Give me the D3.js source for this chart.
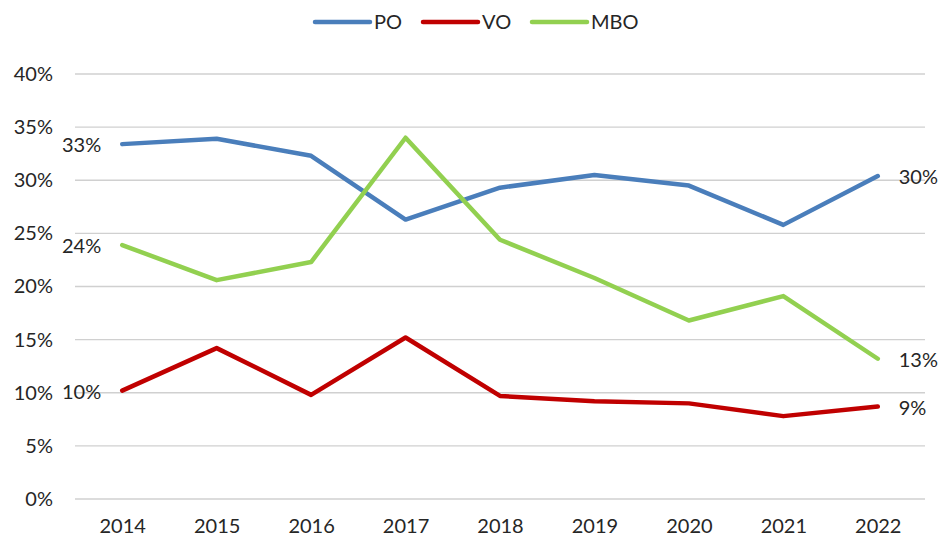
<!DOCTYPE html>
<html>
<head>
<meta charset="utf-8">
<script src="https://cdn.jsdelivr.net/npm/d3@7"></script>
<style>
  body { margin: 0; background: #fff; }
  text { font-family: Lato, "Open Sans", sans-serif; fill: #262626; }
</style>
</head>
<body>
<div id="chart"></div>
<script>
var w = 945;
var h = 540;

// values, in percent
var years = ["2014", "2015", "2016", "2017", "2018", "2019", "2020", "2021", "2022"];
var po  = [33.4, 33.9, 32.3, 26.3, 29.3, 30.5, 29.5, 25.8, 30.4];
var vo  = [10.2, 14.2, 9.8, 15.2, 9.7, 9.2, 9.0, 7.8, 8.7];
var mbo = [23.9, 20.6, 22.3, 34.0, 24.4, 20.8, 16.8, 19.1, 13.2];
var yTicks = [0, 5, 10, 15, 20, 25, 30, 35, 40];

var series = [
    {name: "PO",  values: po,  color: "#4a7ebb"},
    {name: "VO",  values: vo,  color: "#c00000"},
    {name: "MBO", values: mbo, color: "#92d050"}
];

var margin = {left: 75, right: 20, top: 74, bottom: 41};
var fontSize = "20px";

var svg = d3.select("#chart")
            .append("svg")
                .attr("width", w)
                .attr("height", h);

var x = d3.scalePoint()
    .domain(years)
    .range([margin.left, w - margin.right])
    .padding(0.5);

var y = d3.scaleLinear()
    .domain([0, 40])
    .range([h - margin.bottom, margin.top]);

// gridlines
svg.append("g")
    .selectAll("line")
    .data(yTicks)
    .enter()
        .append("line")
        .attr("x1", margin.left)
        .attr("x2", w - margin.right)
        .attr("y1", function(d) { return y(d); })
        .attr("y2", function(d) { return y(d); })
        .attr("stroke", "#d0d0d0")
        .attr("stroke-width", 1.3);

// y axis labels
var yAxis = svg.append("g")
    .attr("transform", "translate(" + margin.left + ",0)")
    .call(d3.axisLeft(y).tickValues(yTicks).tickSize(0).tickPadding(22)
        .tickFormat(function(d) { return d + "%"; }));
yAxis.select(".domain").remove();
yAxis.selectAll("text").style("font-size", fontSize);

// x axis labels
var xAxis = svg.append("g")
    .attr("transform", "translate(0," + (h - margin.bottom) + ")")
    .call(d3.axisBottom(x).tickSize(0).tickPadding(20));
xAxis.select(".domain").remove();
xAxis.selectAll("text").style("font-size", fontSize);

var line = d3.line()
    .x(function(d, i) { return x(years[i]); })
    .y(function(d) { return y(d); });

svg.selectAll("path.series")
    .data(series)
    .enter()
        .append("path")
        .attr("class", "series")
        .attr("fill", "none")
        .attr("stroke", function(d) { return d.color; })
        .attr("stroke-width", 4.5)
        .attr("stroke-linecap", "round")
        .attr("stroke-linejoin", "round")
        .attr("d", function(d) { return line(d.values); });

// data labels on first and last points
var first = years[0];
var last = years[years.length - 1];
series.forEach(function(s) {
    svg.append("text")
        .attr("x", x(first) - 21)
        .attr("y", y(s.values[0]) + 8)
        .attr("text-anchor", "end")
        .style("font-size", fontSize)
        .text(Math.round(s.values[0]) + "%");
    svg.append("text")
        .attr("x", x(last) + 21)
        .attr("y", y(s.values[s.values.length - 1]) + 8)
        .attr("text-anchor", "start")
        .style("font-size", fontSize)
        .text(Math.round(s.values[s.values.length - 1]) + "%");
});

// legend
var legendX = [315, 423, 532];
var legend = svg.selectAll("g.legend")
    .data(series)
    .enter()
        .append("g")
        .attr("class", "legend")
        .attr("transform", function(d, i) { return "translate(" + legendX[i] + ",22)"; });

legend.append("line")
    .attr("x1", 0)
    .attr("x2", 55)
    .attr("stroke", function(d) { return d.color; })
    .attr("stroke-width", 4.5)
    .attr("stroke-linecap", "round");

legend.append("text")
    .attr("x", 59)
    .attr("y", 7)
    .style("font-size", fontSize)
    .text(function(d) { return d.name; });
</script>
</body>
</html>
